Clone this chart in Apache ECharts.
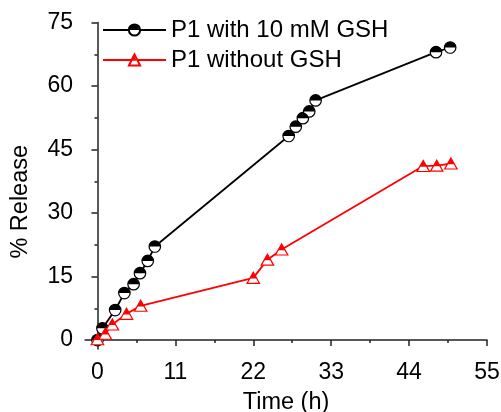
<!DOCTYPE html>
<html>
<head>
<meta charset="utf-8">
<script src="https://cdn.jsdelivr.net/npm/echarts@6/dist/echarts.min.js"></script>
<style>html,body{margin:0;padding:0;background:#fff;}#c{width:501px;height:412px;}</style>
</head>
<body>
<div id="c"></div>
<script>
// ---- data ----
const seriesNames = ['P1 with 10 mM GSH', 'P1 without GSH'];
const timeGSH = [0, 0.7, 2.5, 3.8, 5.1, 6.0, 7.1, 8.1, 27.0, 28.0, 29.0, 29.9, 30.8, 47.8, 49.8];
const releaseGSH = [0, 2.8, 7.1, 11.1, 13.2, 15.8, 18.7, 22.1, 48.2, 50.4, 52.4, 54.0, 56.6, 68.0, 69.1];
const timeNoGSH = [0, 1.1, 2.1, 4.1, 6.1, 22.0, 24.0, 26.0, 46.0, 47.9, 49.9];
const releaseNoGSH = [0.2, 1.5, 3.7, 6.2, 8.1, 14.7, 19.0, 21.4, 41.1, 41.2, 41.7];
const xTicks = [0, 11, 22, 33, 44, 55];
const xMinorTicks = [5.5, 16.5, 27.5, 38.5, 49.5];
const yTicks = [0, 15, 30, 45, 60, 75];
const yMinorTicks = [7.5, 22.5, 37.5, 52.5, 67.5];
const xTitle = 'Time (h)';
const yTitle = '% Release';

const toPairs = (xs, ys) => xs.map((x, i) => [x, ys[i]]);
const FONT = 'Liberation Sans, Arial, sans-serif';
const halfCircle = 'path://M0,10 A10,10 0 0 1 20,10 Z M0,20 L20,20 Z';
const topTriangle = 'path://M10,0 L15.6,11.2 L4.4,11.2 Z M0,20 L20,20 Z';
const hidden = ['hGSH', 'hNoGSH'];

const chart = echarts.init(document.getElementById('c'), null, {renderer: 'canvas'});
const xBase = {type: 'value', min: -1.76, max: 55, gridIndex: 0};
const yBase = {type: 'value', min: -2.1, max: 75, gridIndex: 0};
const legendBase = {
  orient: 'vertical', left: 97, top: 13, itemWidth: 63, itemHeight: 14, itemGap: 6,
  textStyle: {fontSize: 24, fontFamily: FONT, color: '#000'},
};
chart.setOption({
  animation: false,
  grid: {left: 85, right: 14, top: 22.5, bottom: 63, containLabel: false, outerBoundsMode: 'none'},
  legend: [
    Object.assign({}, legendBase, {data: seriesNames}),
    Object.assign({}, legendBase, {
      data: hidden,
      formatter: n => seriesNames[hidden.indexOf(n)],
      textStyle: {fontSize: 24, fontFamily: FONT, color: 'rgba(0,0,0,0)'}
    })
  ],
  xAxis: [
    Object.assign({}, xBase, {
      name: xTitle, nameLocation: 'middle', nameGap: 42,
      nameTextStyle: {fontSize: 23.5, fontFamily: FONT, color: '#000'},
      axisLine: {show: true, lineStyle: {color: '#222', width: 1.5}},
      axisTick: {show: true, inside: false, length: 6, customValues: xTicks, lineStyle: {color: '#222', width: 1.5}},
      axisLabel: {customValues: xTicks, fontSize: 23, fontFamily: FONT, color: '#000', margin: 12},
      splitLine: {show: false}
    }),
    Object.assign({}, xBase, {
      position: 'bottom',
      axisLine: {show: false},
      axisTick: {show: true, inside: false, length: 3, customValues: xMinorTicks, lineStyle: {color: '#222', width: 1.5}},
      axisLabel: {show: false}, splitLine: {show: false}
    })
  ],
  yAxis: [
    Object.assign({}, yBase, {
      name: yTitle, nameLocation: 'middle', nameGap: 52, nameRotate: 90,
      nameTextStyle: {fontSize: 23.5, fontFamily: FONT, color: '#000', padding: [0, 32, 0, 0]},
      axisLine: {show: true, lineStyle: {color: '#222', width: 1.5}},
      axisTick: {show: true, inside: false, length: 6, customValues: yTicks, lineStyle: {color: '#222', width: 1.5}},
      axisLabel: {customValues: yTicks, fontSize: 23, fontFamily: FONT, color: '#000', margin: 12},
      splitLine: {show: false}
    }),
    Object.assign({}, yBase, {
      position: 'left',
      axisLine: {show: false},
      axisTick: {show: true, inside: false, length: 3, customValues: yMinorTicks, lineStyle: {color: '#222', width: 1.5}},
      axisLabel: {show: false}, splitLine: {show: false}
    })
  ],
  series: [
    {
      name: seriesNames[0], type: 'line', data: toPairs(timeGSH, releaseGSH), z: 2,
      symbol: 'circle', symbolSize: 11.5, showAllSymbol: true,
      lineStyle: {color: '#000', width: 1.8},
      itemStyle: {color: '#fff', borderColor: '#000', borderWidth: 1.2}
    },
    {
      name: hidden[0], type: 'line', data: toPairs(timeGSH, releaseGSH), z: 3,
      symbol: halfCircle, symbolSize: 11.5, showAllSymbol: true,
      lineStyle: {width: 0, color: 'rgba(0,0,0,0)'},
      itemStyle: {color: '#000', borderWidth: 0}
    },
    {
      name: seriesNames[1], type: 'line', data: toPairs(timeNoGSH, releaseNoGSH), z: 4,
      symbol: 'triangle', symbolSize: [12.5, 11], showAllSymbol: true,
      lineStyle: {color: '#ff0000', width: 1.8},
      itemStyle: {color: '#fff', borderColor: '#ff0000', borderWidth: 1.2}
    },
    {
      name: hidden[1], type: 'line', data: toPairs(timeNoGSH, releaseNoGSH), z: 5,
      symbol: topTriangle, symbolSize: [12.5, 11], showAllSymbol: true,
      lineStyle: {width: 0, color: 'rgba(0,0,0,0)'},
      itemStyle: {color: '#ff0000', borderWidth: 0}
    }
  ]
});
</script>
</body>
</html>
